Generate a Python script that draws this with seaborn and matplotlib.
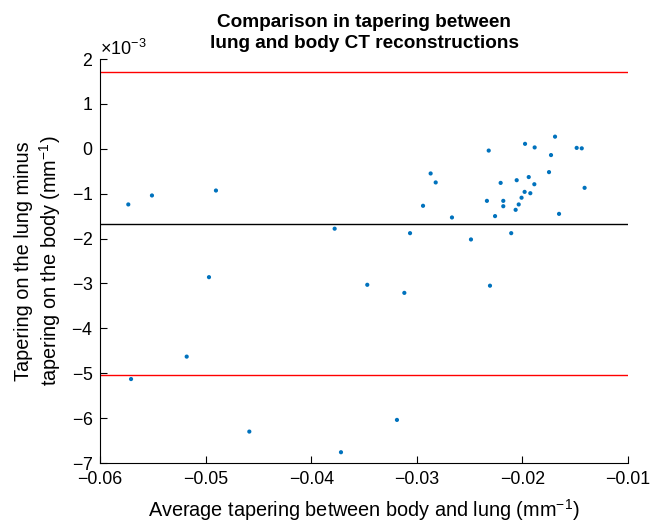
import matplotlib
matplotlib.use("Agg")
import matplotlib.pyplot as plt
import seaborn as sns
import pandas as pd
import numpy as np

# Data (x: average tapering, y: difference in units of 1e-3)
avg_tapering = [
    -0.01691, -0.01975, -0.01884, -0.01486, -0.01438, -0.02319, -0.01729, -0.01748,
    -0.01940, -0.02054, -0.02206, -0.01887, -0.01411, -0.01979, -0.01925, -0.02008,
    -0.02336, -0.02181, -0.02181, -0.02035, -0.02064, -0.02259, -0.01653, -0.02667,
    -0.02106, -0.02487, -0.02869, -0.02821, -0.02941, -0.03778, -0.03064, -0.03469,
    -0.03118, -0.03188, -0.03718, -0.05732, -0.05508, -0.04902, -0.04968, -0.05179,
    -0.05706, -0.04586, -0.02307,
]
diff_e3 = [
    0.27, 0.11, 0.03, 0.02, 0.01, -0.04, -0.14, -0.52,
    -0.63, -0.70, -0.76, -0.79, -0.87, -0.96, -0.99, -1.09,
    -1.16, -1.16, -1.28, -1.24, -1.36, -1.50, -1.45, -1.53,
    -1.88, -2.02, -0.55, -0.75, -1.27, -1.78, -1.88, -3.03,
    -3.21, -6.04, -6.76, -1.24, -1.04, -0.93, -2.86, -4.63,
    -5.13, -6.30, -3.05,
]
mean_diff = -1.675e-3
upper_limit = 1.70e-3
lower_limit = -5.03e-3

title = "Comparison in tapering between\nlung and body CT reconstructions"
xlabel = "Average tapering between body and lung (mm$^{-1}$)"
ylabel = "Tapering on the lung minus\ntapering on the body (mm$^{-1}$)"
x_ticks = [-0.06, -0.05, -0.04, -0.03, -0.02, -0.01]
y_ticks_e3 = [-7, -6, -5, -4, -3, -2, -1, 0, 1, 2]

sns.set_theme(style="white")
plt.rcParams["font.family"] = ["Liberation Sans", "DejaVu Sans"]
plt.rcParams["mathtext.fontset"] = "custom"
plt.rcParams["mathtext.rm"] = "Liberation Sans"
plt.rcParams["mathtext.it"] = "Liberation Sans:italic"
plt.rcParams["mathtext.bf"] = "Liberation Sans:bold"

df = pd.DataFrame({"x": avg_tapering, "y": np.array(diff_e3) * 1e-3})

fig = plt.figure(figsize=(6.5, 5.23), dpi=100)
ax = fig.add_axes([100 / 650, 60 / 523, 528 / 650, 404 / 523])

sns.scatterplot(data=df, x="x", y="y", ax=ax, color="#0072BD", s=9,
                edgecolor="none", linewidth=0, zorder=3)

ax.axhline(upper_limit, color="#FF0000", lw=1.0, zorder=2)
ax.axhline(lower_limit, color="#FF0000", lw=1.0, zorder=2)
ax.axhline(mean_diff, color="black", lw=1.0, zorder=2)

ax.set_xlim(-0.06, -0.01)
ax.set_ylim(-7e-3, 2e-3)
ax.set_xticks(x_ticks)
ax.set_yticks(np.array(y_ticks_e3) * 1e-3)
ax.ticklabel_format(style="sci", axis="y", scilimits=(0, 0), useMathText=True)
ax.yaxis.get_offset_text().set_fontsize(13)

ax.xaxis.set_major_formatter(matplotlib.ticker.FuncFormatter(
    lambda v, p: ("\u2212" if v < 0 else "") + f"{abs(v):.2f}"))

for s in ["top", "right"]:
    ax.spines[s].set_visible(False)
for s in ["left", "bottom"]:
    ax.spines[s].set_color("black")
    ax.spines[s].set_linewidth(0.8)

ax.tick_params(axis="both", direction="in", length=5, width=0.8, colors="black",
               labelsize=12.8, left=True, bottom=True)
ax.tick_params(axis="x", pad=6)
ax.tick_params(axis="y", pad=5)

ax.set_xlabel(xlabel, fontsize=14.3, color="black", labelpad=6)
ax.set_ylabel(ylabel, fontsize=14.3, color="black", labelpad=6)
ax.set_title(title, fontsize=13.7, fontweight="bold", color="black", pad=8,
             linespacing=1.3)

fig.savefig("out.png", dpi=100)
